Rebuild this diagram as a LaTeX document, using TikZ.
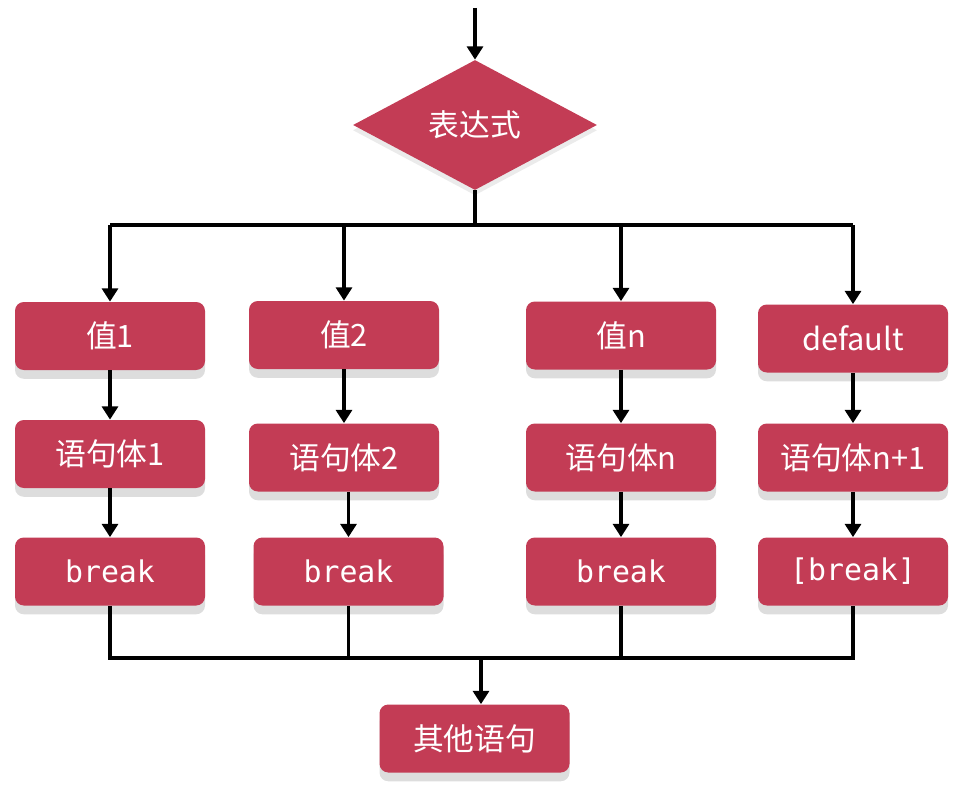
\documentclass[tikz,border=0pt]{standalone}
\usepackage{fontspec}
\usepackage{tikz}
\usetikzlibrary{arrows.meta, shapes.geometric, shadows, calc}
\newfontfamily\cjk{Noto Sans CJK SC}
\newfontfamily\codefont{DejaVu Sans Mono}
\definecolor{boxred}{HTML}{C33C55}

\begin{document}
\begin{tikzpicture}[
    font=\cjk\fontsize{17.5}{20}\selectfont,
    line/.style={line width=2pt, black},
    arrow/.style={line, -{Triangle[length=7.5pt, width=9pt]}},
    block/.style={rectangle, rounded corners=5pt, fill=boxred, text=white,
      minimum width=3.8cm, minimum height=1.36cm, inner sep=0pt,
      drop shadow={shadow xshift=0pt, shadow yshift=-5pt, fill=gray!45, opacity=0.6}},
    decide/.style={diamond, fill=boxred, text=white, inner sep=0pt,
      minimum width=4.88cm, minimum height=2.6cm, aspect=1.88,
      drop shadow={shadow xshift=0pt, shadow yshift=-3pt, fill=gray!40, opacity=0.4}}
  ]
      \useasboundingbox (0,0) rectangle (19.06,-15.68);

      % Switch expression
      \coordinate (start) at (9.5,-0.16);
      \node[decide] (expr) at (9.5,-2.5) {表达式};
      \draw[arrow] (start) -- (expr);

      % Case labels
      \node[block] (val1) at (2.2,-6.72) {值1};
      \node[block] (val2) at (6.88,-6.7) {值2};
      \node[block] (valn) at (12.42,-6.71) {值n};
      \node[block] (dflt) at (17.06,-6.77) {default};

      % Statement bodies
      \node[block] (body1) at (2.2,-9.08) {语句体1};
      \node[block] (body2) at (6.88,-9.15) {语句体2};
      \node[block] (bodyn) at (12.42,-9.15) {语句体n};
      \node[block] (bodyd) at (17.06,-9.15) {语句体n+1};

      % Break statements
      \node[block, font=\codefont\fontsize{17}{20}\selectfont] (brk1) at (2.2,-11.43) {break};
      \node[block, font=\codefont\fontsize{17}{20}\selectfont] (brk2) at (6.97,-11.43) {break};
      \node[block, font=\codefont\fontsize{17}{20}\selectfont] (brkn) at (12.42,-11.43) {break};
      \node[block, font=\codefont\fontsize{17}{20}\selectfont] (brkd) at (17.06,-11.43) {[break]};

      % Following statement
      \node[block] (other) at (9.49,-14.77) {其他语句};

      % Branch out
      \coordinate (split) at (9.5,-4.5);
      \draw[line] (expr) -- (split);
      \draw[line] (val1 |- split) -- (dflt |- split);
      \draw[arrow] (val1 |- split) -- (val1);
      \draw[arrow] (val2 |- split) -- (val2);
      \draw[arrow] (valn |- split) -- (valn);
      \draw[arrow] (dflt |- split) -- (dflt);

      % Down each column
      \draw[arrow] (val1) -- (body1);
      \draw[arrow] (val2) -- (body2);
      \draw[arrow] (valn) -- (bodyn);
      \draw[arrow] (dflt) -- (bodyd);
      \draw[arrow] (body1) -- (brk1);
      \draw[arrow] (body2.south -| brk2) -- (brk2);
      \draw[arrow] (bodyn) -- (brkn);
      \draw[arrow] (bodyd) -- (brkd);

      % Join again
      \coordinate (join) at (9.62,-13.16);
      \draw[line] (brk1) -- (brk1 |- join) -- (brkd |- join) -- (brkd);
      \draw[line] (brk2) -- (brk2 |- join);
      \draw[line] (brkn) -- (brkn |- join);
      \draw[arrow] (join) -- (join |- other.north);
    \end{tikzpicture}
\end{document}
